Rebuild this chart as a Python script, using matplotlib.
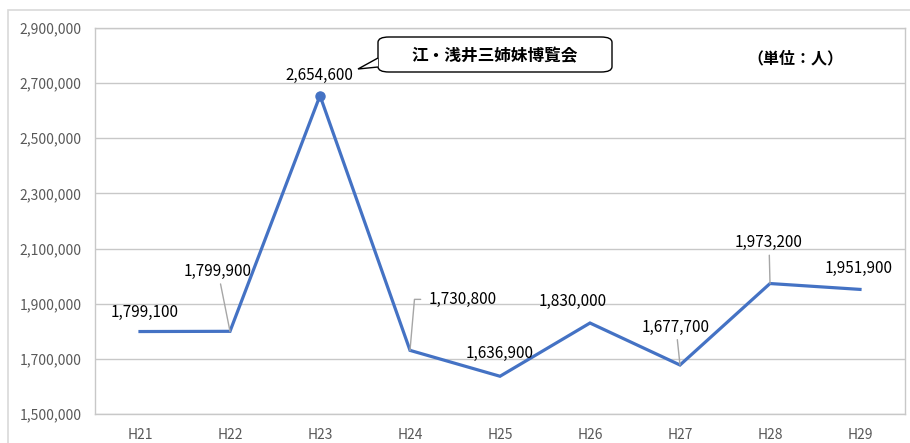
import matplotlib
matplotlib.use("Agg")
import matplotlib.pyplot as plt
from matplotlib.patches import FancyBboxPatch, Polygon, Rectangle

plt.rcParams['font.family'] = ['Noto Sans CJK JP', 'DejaVu Sans']

categories = ["H21", "H22", "H23", "H24", "H25", "H26", "H27", "H28", "H29"]
visitors = [1799100, 1799900, 2654600, 1730800, 1636900, 1830000, 1677700, 1973200, 1951900]
yticks = [1500000, 1700000, 1900000, 2100000, 2300000, 2500000, 2700000, 2900000]
event_label = "江・浅井三姉妹博覧会"
unit_label = "（単位：人）"

W, H = 910, 443
fig = plt.figure(figsize=(W / 100, H / 100), dpi=100)
ax = fig.add_axes([95 / W, 1 - 414 / H, 810 / W, 386 / H])

# outer chart frame (only top/left visible)
fig.patches.append(Rectangle((8 / W, -0.1), 1.2, 1 - 10 / H + 0.1, transform=fig.transFigure,
                             fill=False, edgecolor="#D9D9D9", linewidth=1.2))

x = list(range(len(categories)))
line_color = "#4472C4"
ax.plot(x, visitors, color=line_color, linewidth=2.3, solid_joinstyle="miter", zorder=3)
ax.plot([x[2]], [visitors[2]], "o", color=line_color, markersize=6.5, zorder=4)

ax.set_xlim(-0.5, len(categories) - 0.5)
ax.set_ylim(1500000, 2900000)
ax.set_yticks(yticks)
ax.set_yticklabels([f"{v:,}" for v in yticks])
ax.set_xticks(x)
ax.set_xticklabels(categories)
ax.tick_params(axis="both", length=0, colors="#595959", labelsize=10)
ax.tick_params(axis="y", pad=9.5)
ax.tick_params(axis="x", pad=10)
ax.grid(axis="y", color="#C8C8C8", linewidth=1.0)
ax.set_axisbelow(True)
for s in ax.spines.values():
    s.set_color("#C8C8C8")
    s.set_linewidth(1.0)

# data labels: (dx, dy) offsets in pixels, ha, leader style
label_specs = [
    (5, 19, "center", None),
    (-12, 60, "center", "straight"),
    (-1, 20, "center", None),
    (19, 51, "left", "angle"),
    (0, 23, "center", None),
    (-17, 22, "center", None),
    (-4, 38, "center", "straight"),
    (-1, 41, "center", "straight"),
    (-1, 21, "center", None),
]
for xi, v, (dx, dy, ha, leader) in zip(x, visitors, label_specs):
    kw = {}
    if leader == "straight":
        kw["arrowprops"] = dict(arrowstyle="-", color="#A6A6A6", lw=1.0, shrinkA=1, shrinkB=0)
    elif leader == "angle":
        kw["arrowprops"] = dict(arrowstyle="-", color="#A6A6A6", lw=1.0, shrinkA=4, shrinkB=0,
                                connectionstyle="angle,angleA=0,angleB=85,rad=0",
                                relpos=(0, 0.5))
    ax.annotate(f"{v:,}", xy=(xi, v), xytext=(dx, dy), textcoords="offset pixels",
                ha=ha, va="center", fontsize=11, color="black", zorder=5, **kw)

# callout box
bx0, by0, bx1, by1 = 378, 37, 612, 72
tail = Polygon([(378 / W, 1 - 58 / H), (358 / W, 1 - 69 / H), (378 / W, 1 - 67 / H)],
               closed=False, transform=fig.transFigure, facecolor="white",
               edgecolor="black", linewidth=1.0, zorder=6)
fig.patches.append(tail)
box = FancyBboxPatch((bx0 / W, 1 - by1 / H), (bx1 - bx0) / W, (by1 - by0) / H,
                     boxstyle="round,pad=0,rounding_size=0.012", transform=fig.transFigure,
                     facecolor="white", edgecolor="black", linewidth=1.0, zorder=5)
fig.patches.append(box)
fig.text((bx0 + bx1) / 2 / W, 1 - 56 / H, event_label, ha="center", va="center",
         fontsize=12, fontweight="bold", zorder=7)
fig.text(795 / W, 1 - 58 / H, unit_label, ha="center", va="center",
         fontsize=11.5, fontweight="bold")

fig.savefig("out.png", dpi=100)
